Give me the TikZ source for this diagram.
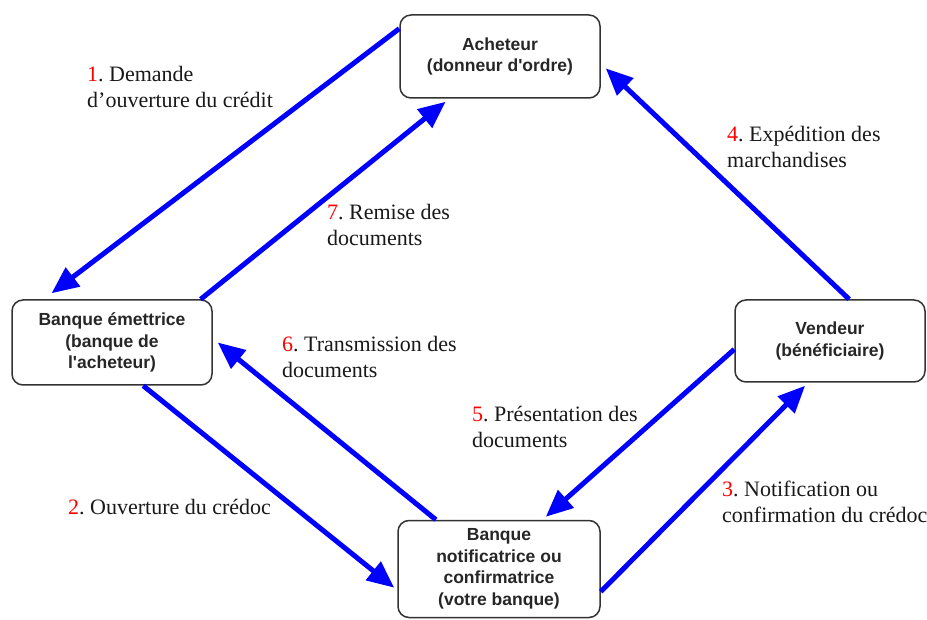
\documentclass[tikz,border=0pt]{standalone}
\usepackage{fontspec}
\setmainfont{Liberation Serif}
\newfontfamily\boxfont{Liberation Sans}
\usetikzlibrary{arrows.meta,calc}
\frenchspacing
\begin{document}
\begin{tikzpicture}[x=1pt,y=-1pt,
  party/.style={draw=black!80, line width=1.5pt, rounded corners=11pt, fill=white, align=center, inner sep=0pt, font=\boxfont\bfseries\fontsize{17.5}{21.5}\selectfont, text=black!85},
  flow/.style={draw=blue, line width=5pt, -{Triangle[length=27pt,width=23pt]}},
  lbl/.style={anchor=base west, align=left, inner sep=0pt, font=\frenchspacing\fontsize{22}{26}\selectfont, text=black!90},
  num/.style={text=red}]
\useasboundingbox (0,0) rectangle (927,620);
\node[party, minimum width=200pt, minimum height=83pt] (ach) at (500,56.5) {Acheteur\\(donneur d'ordre)};
\node[party, minimum width=200pt, minimum height=85pt] (be) at (112,342.5) {Banque émettrice\\(banque de\\l'acheteur)};
\node[party, minimum width=190pt, minimum height=82pt] (ven) at (830,341) {Vendeur\\(bénéficiaire)};
\node[party, minimum width=202pt, minimum height=97pt] (bn) at (499,569) {Banque\\notificatrice ou\\confirmatrice\\(votre banque)};

% arrows
\draw[flow] ($(ach.north west)!0.17!(ach.south west)$) -- ($(be.north west)!0.2!(be.north east)+(0,-6)$);
\draw[flow] ($(be.north west)!0.94!(be.north east)$) -- ($(ach.south west)!0.23!(ach.south east)+(0,3)$);
\draw[flow] ($(ven.north west)!0.6!(ven.north east)$) -- ($(ach.north east)!0.64!(ach.south east)+(5,0)$);
\draw[flow] ($(be.south west)!0.655!(be.south east)$) -- ($(bn.north west)!0.69!(bn.south west)+(-3,0)$);
\draw[flow] ($(bn.north west)!0.19!(bn.north east)$) -- ($(be.east)+(5,0)$);
\draw[flow] ($(ven.north west)!0.6!(ven.south west)$) -- ($(bn.north west)!0.73!(bn.north east)+(0,-3)$);
\draw[flow] ($(bn.north east)!0.73!(bn.south east)$) -- ($(ven.south west)!0.37!(ven.south east)+(0,3)$);

% labels (anchor = baseline of last line)
\node[lbl] (l1) at (87,108) {{\color{red}1}. Demande\\d'ouverture du crédit};
\node[lbl] (l7) at (327,246) {{\color{red}7}. Remise des\\documents};
\node[lbl] (l4) at (727,168) {{\color{red}4}. Expédition des\\marchandises};
\node[lbl] (l6) at (282,378) {{\color{red}6}. Transmission des\\documents};
\node[lbl] (l5) at (472,447) {{\color{red}5}. Présentation des\\documents};
\node[lbl] (l2) at (68,514) {{\color{red}2}. Ouverture du crédoc};
\node[lbl] (l3) at (722,522) {{\color{red}3}. Notification ou\\confirmation du crédoc};
\end{tikzpicture}
\end{document}
